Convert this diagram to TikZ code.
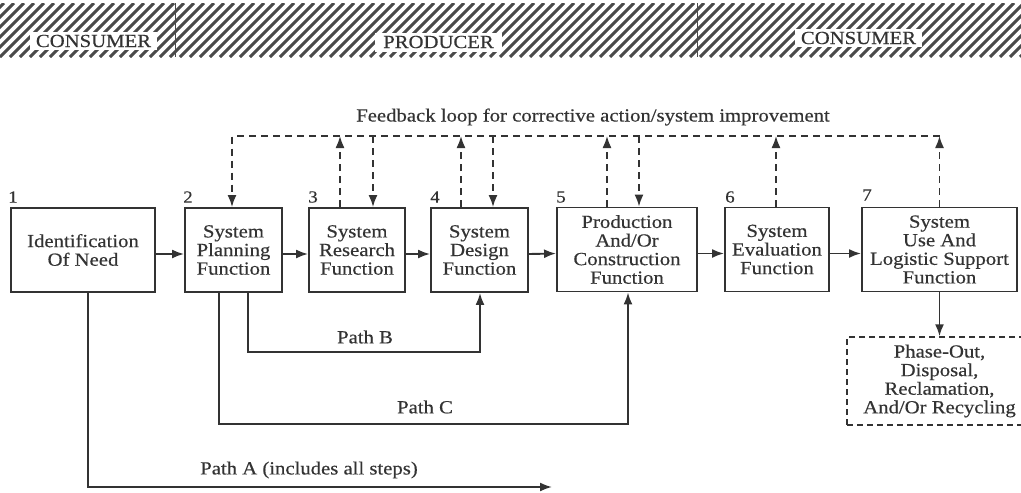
\documentclass[tikz,border=0pt]{standalone}
\usepackage{fontspec}
\setmainfont{Liberation Serif}[FakeStretch=1.12,FakeBold=0.4]
\usetikzlibrary{arrows.meta}
\definecolor{ink}{HTML}{333333}
\definecolor{hatch}{HTML}{4A4A4A}
\begin{document}
\begin{tikzpicture}[x=1pt,y=-1pt,
  box/.style={draw=ink, line width=1.9pt, fill=white, align=center, inner sep=0pt,
    font=\fontsize{18.5}{18.6}\selectfont, text=ink},
  arr/.style={draw=ink, line width=1.9pt, -{Latex[length=12pt,width=9pt]}},
  fb/.style={arr, line width=1.7pt, dash pattern=on 7pt off 5pt},
  num/.style={font=\fontsize{17}{17}\selectfont, text=ink, inner sep=0pt},
  lbl/.style={font=\fontsize{18.5}{18.6}\selectfont, text=ink, inner sep=0pt},
  tag/.style={fill=white, inner sep=0pt, font=\fontsize{18.5}{18.6}\selectfont, text=ink},
]
\useasboundingbox (0,0) rectangle (1021,493);
\clip (0,0) rectangle (1021,493);
\fill[white] (0,0) rectangle (1021,493);
% hatched band
\begin{scope}
  \clip (0,3) rectangle (1021,57);
  \foreach \i in {-80,-70,...,1030} \draw[hatch, line width=3pt] (\i,57) -- ++(54,-54);
\end{scope}
\draw[hatch, line width=1pt] (175,3) -- (175,57);
\draw[hatch, line width=1pt] (697,3) -- (697,57);
\node[tag, minimum width=127pt, minimum height=18pt] (c1) at (93.5,41) {CONSUMER};
\node[tag, minimum width=127pt, minimum height=19pt] (pr) at (438.5,42) {PRODUCER};
\node[tag, minimum width=127pt, minimum height=18pt] (c2) at (858.5,38) {CONSUMER};

\node[lbl] (fbt) at (593,117) {Feedback loop for corrective action/system improvement};

% boxes
\node[box, minimum width=144pt, minimum height=84pt] (b1) at (83,250) {Identification\\Of Need};
\node[box, minimum width=97pt, minimum height=84pt] (b2) at (233.5,250) {System\\Planning\\Function};
\node[box, minimum width=96pt, minimum height=84pt] (b3) at (357,250) {System\\Research\\Function};
\node[box, minimum width=97pt, minimum height=84pt] (b4) at (479.5,250) {System\\Design\\Function};
\node[box, minimum width=140pt, minimum height=84pt] (b5) at (627,249.5) {Production\\And/Or\\Construction\\Function};
\node[box, minimum width=104pt, minimum height=84pt] (b6) at (777,249.5) {System\\Evaluation\\Function};
\node[box, minimum width=155pt, minimum height=84pt] (b7) at (939.5,249.5) {System\\Use And\\Logistic Support\\Function};
\node[box, dash pattern=on 6pt off 4pt, line width=1.4pt, minimum width=185pt, minimum height=88pt] (ph) at (939.5,381) {Phase-Out,\\Disposal,\\Reclamation,\\And/Or Recycling};

% numbers
\node[num] (n1) at (13,197) {1};
\node[num] (n2) at (188,197) {2};
\node[num] (n3) at (313,197) {3};
\node[num] (n4) at (435,197) {4};
\node[num] (n5) at (561,197) {5};
\node[num] (n6) at (730,197) {6};
\node[num] (n7) at (867,195) {7};

% forward arrows
\draw[arr] ([yshift=-4pt]b1.east) -- ([yshift=-4pt]b2.west);
\draw[arr] ([yshift=-4pt]b2.east) -- ([yshift=-4pt]b3.west);
\draw[arr] ([yshift=-4pt]b3.east) -- ([yshift=-4pt]b4.west);
\draw[arr] ([yshift=-4pt]b4.east) -- ([yshift=-4pt]b5.west);
\draw[arr] ([yshift=-4pt]b5.east) -- ([yshift=-4pt]b6.west);
\draw[arr] ([yshift=-4pt]b6.east) -- ([yshift=-4pt]b7.west);
\draw[arr] (b7.south) -- (ph.north);

% feedback loop
\coordinate (d2) at (232,136);
\coordinate (d3) at (373,136);
\coordinate (d4) at (493,136);
\coordinate (d5) at (639,136);
\coordinate (u3) at (340,136);
\coordinate (u4) at (461,136);
\coordinate (u5) at (607,136);
\coordinate (u6) at (776,136);
\coordinate (u7) at (939.5,136);
\draw[fb] (u7) -- (d2) -- (d2 |- b2.north);
\draw[fb] (d3) -- (d3 |- b3.north);
\draw[fb] (d4) -- (d4 |- b4.north);
\draw[fb] (d5) -- (d5 |- b5.north);
\draw[fb] (u3 |- b3.north) -- (u3);
\draw[fb] (u4 |- b4.north) -- (u4);
\draw[fb] (u5 |- b5.north) -- (u5);
\draw[fb] (u6 |- b6.north) -- (u6);
\draw[fb] (b7.north) -- (u7);

% paths
\coordinate (pA) at (88,487);
\coordinate (pA2) at (552,487);
\coordinate (pB) at (248,352);
\coordinate (pB2) at (480,352);
\coordinate (pC) at (219,424);
\coordinate (pC2) at (628,424);
\draw[arr] (b1.south -| pA) -- (pA) -- (pA2);
\draw[arr] (b2.south -| pB) -- (pB) -- (pB2) -- (pB2 |- b4.south);
\draw[arr] (b2.south -| pC) -- (pC) -- (pC2) -- (pC2 |- b5.south);
\node[lbl] (lB) at (365,337) {Path B};
\node[lbl] (lC) at (425,407) {Path C};
\node[lbl] (lA) at (309,470) {Path A (includes all steps)};
\end{tikzpicture}
\end{document}
